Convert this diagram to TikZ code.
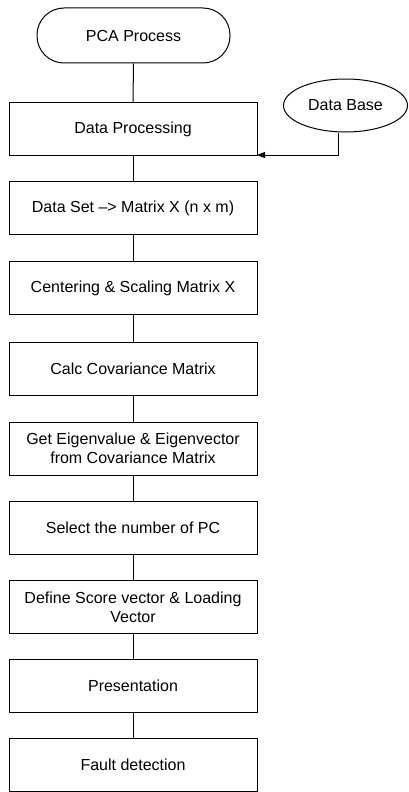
\documentclass[tikz,border=0pt]{standalone}
\usepackage{fontspec}
\setmainfont{Liberation Sans}
\usetikzlibrary{shapes.geometric,arrows.meta}
\begin{document}
\begin{tikzpicture}[x=1pt,y=-1pt,
  every node/.style={font=\fontsize{16}{19}\selectfont},
  stepbox/.style={draw,line width=1pt,minimum width=248pt,minimum height=53pt,align=center,inner sep=0pt},
  term/.style={draw,line width=1pt,minimum width=193pt,minimum height=55pt,rounded corners=27pt,inner sep=0pt},
  dbase/.style={draw,ellipse,line width=1pt,minimum width=124pt,minimum height=53pt,inner sep=0pt},
  conn/.style={line width=1pt}]
\useasboundingbox (0,0) rectangle (408,792);
\node[term] (start) at (133.5,35.5) {PCA Process};
\node[dbase] (db) at (345.5,105.5) {Data Base};
\node[stepbox] (s1) at (133,129) {Data Processing};
\node[stepbox] (s2) at (133,208) {Data Set --> Matrix X (n x m)};
\node[stepbox] (s3) at (133,288) {Centering \& Scaling Matrix X};
\node[stepbox] (s4) at (133,368.5) {Calc Covariance Matrix};
\node[stepbox] (s5) at (133,448.5) {Get Eigenvalue \& Eigenvector\\from Covariance Matrix};
\node[stepbox] (s6) at (133,528) {Select the number of PC};
\node[stepbox] (s7) at (133,607) {Define Score vector \& Loading\\Vector};
\node[stepbox] (s8) at (133,686) {Presentation};
\node[stepbox] (s9) at (133,765) {Fault detection};
\coordinate (corner) at (338,155);
\coordinate (tip) at (257,155);
\draw[conn] (start) -- (s1);
\draw[conn] (s1) -- (s2);
\draw[conn] (s2) -- (s3);
\draw[conn] (s3) -- (s4);
\draw[conn] (s4) -- (s5);
\draw[conn] (s5) -- (s6);
\draw[conn] (s6) -- (s7);
\draw[conn] (s7) -- (s8);
\draw[conn] (s8) -- (s9);
\draw[conn,-{Triangle[length=8pt,width=6pt]}] (db.south -| corner) -- (corner) -- (tip);
\end{tikzpicture}
\end{document}
